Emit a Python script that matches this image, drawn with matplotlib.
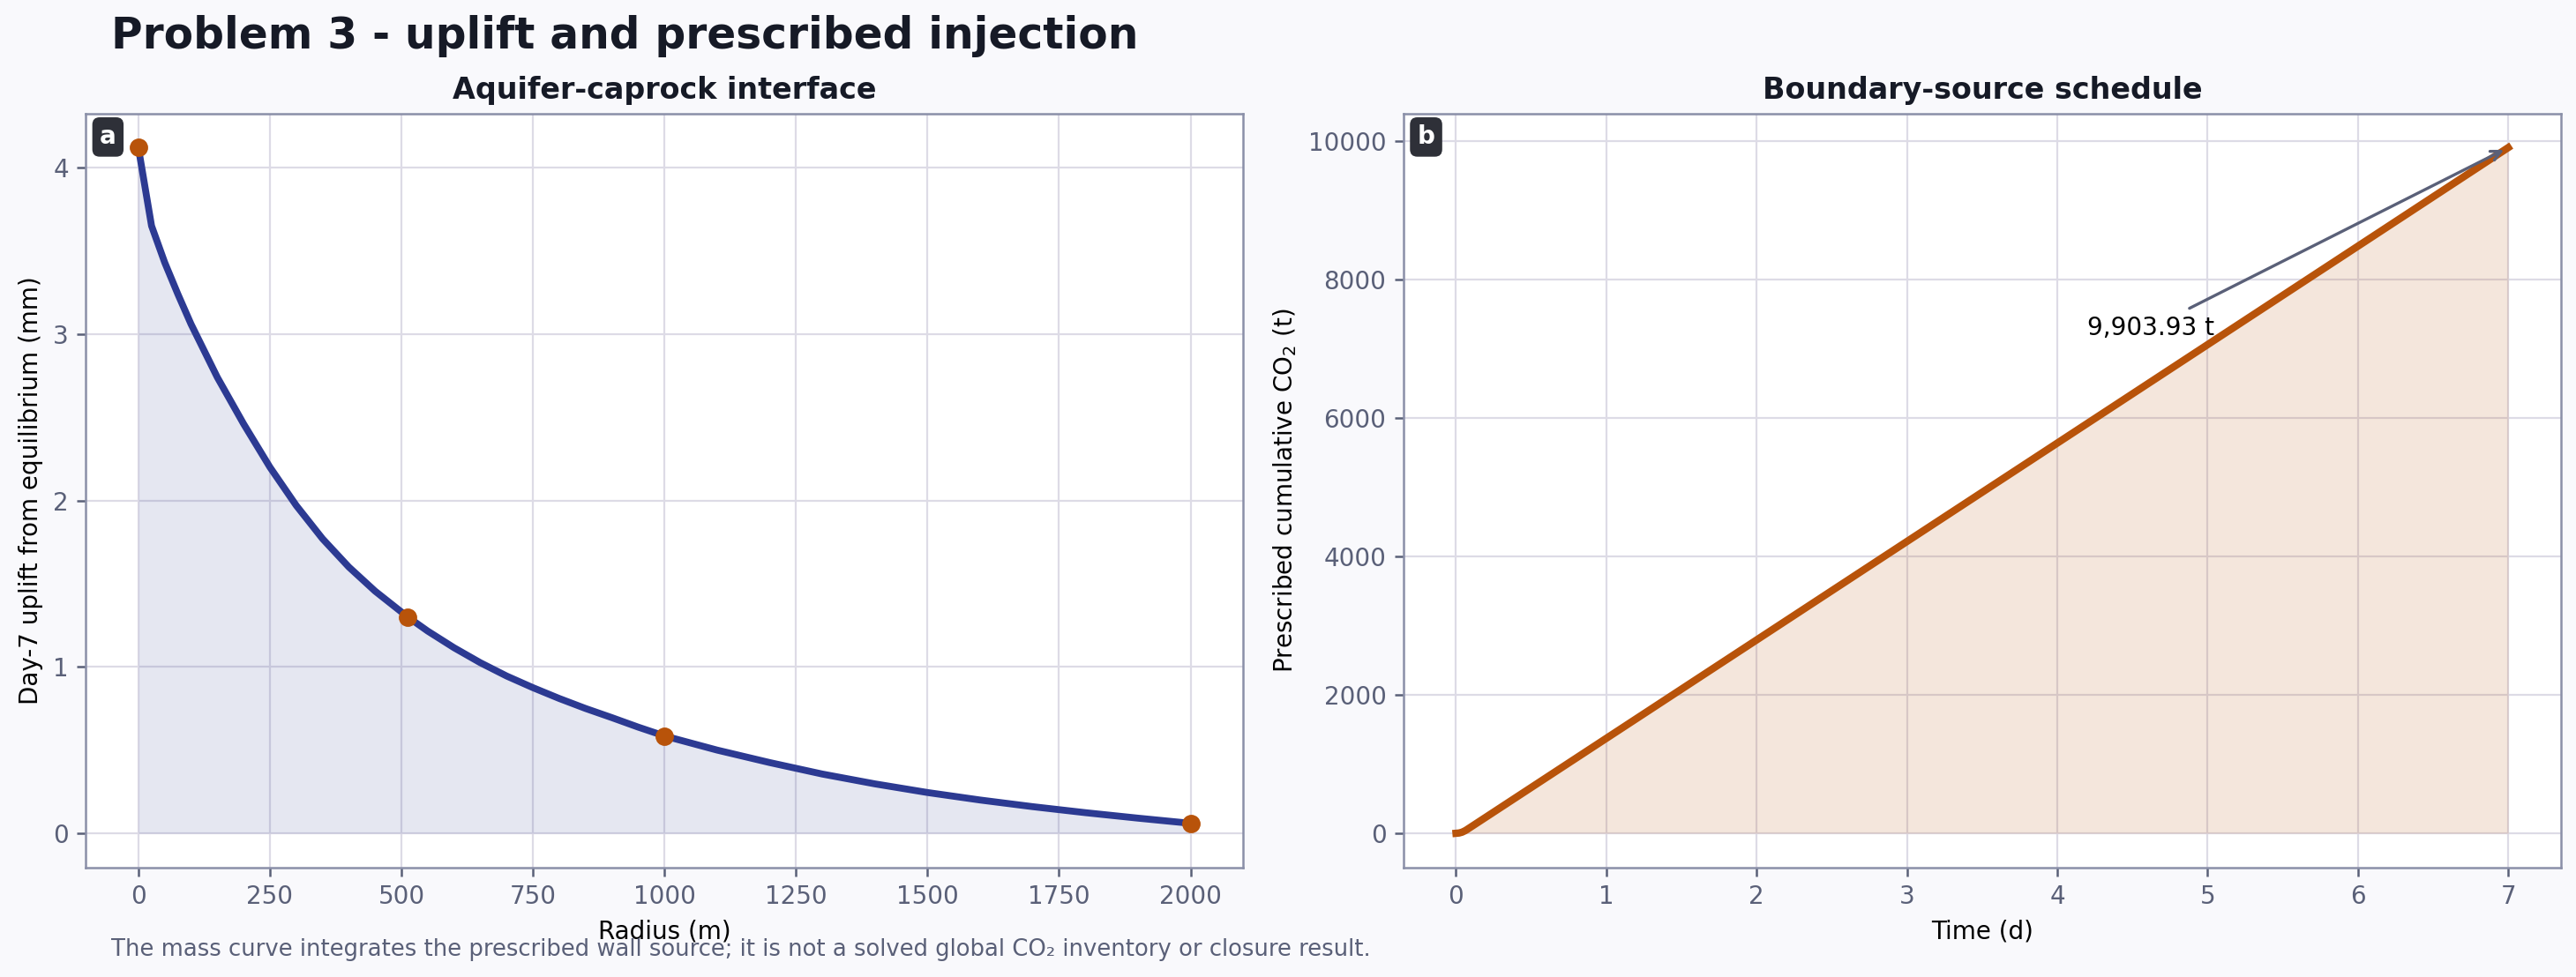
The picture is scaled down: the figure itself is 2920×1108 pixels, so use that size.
import matplotlib
matplotlib.use("Agg")
import matplotlib.pyplot as plt

# panel a: day-7 uplift along the aquifer-caprock interface
radius_m = [0, 25, 50, 75, 100, 150, 200, 250, 300, 350, 400, 450, 512, 550, 600, 650,
            700, 750, 800, 850, 900, 950, 1000, 1100, 1200, 1300, 1400, 1500, 1600, 1700,
            1800, 1900, 2000]
uplift_mm = [4.12, 3.65, 3.43, 3.24, 3.06, 2.74, 2.46, 2.20, 1.97, 1.77, 1.60, 1.455, 1.30,
             1.215, 1.115, 1.025, 0.945, 0.875, 0.81, 0.75, 0.695, 0.638, 0.585, 0.50, 0.425,
             0.356, 0.297, 0.245, 0.20, 0.16, 0.124, 0.091, 0.06]
probe_r = [0, 512, 1000, 2000]
probe_uplift = [4.12, 1.30, 0.585, 0.06]

# panel b: prescribed cumulative injected mass
time_d = [0, 0.02, 0.04, 0.06, 0.07, 1, 2, 3, 4, 5, 6, 7]
mass_t = [0, 4, 16, 37, 50, 1372, 2793, 4215, 5636, 7058, 8480, 9903.93]

BLUE = "#2c3a92"
ORANGE = "#b8530a"
MUTED = "#5a6078"
SPINE = "#8a8fa8"
GRID = "#dddbe6"

plt.rcParams["font.family"] = "DejaVu Sans"

fig, (ax1, ax2) = plt.subplots(1, 2, figsize=(14.6, 5.54), dpi=200, facecolor="#f9f9fc")
fig.subplots_adjust(left=0.0333, right=0.9941, bottom=0.112, top=0.884, wspace=0.1385)

for ax in (ax1, ax2):
    ax.set_facecolor("white")
    ax.set_axisbelow(True)
    ax.grid(True, color=GRID, linewidth=0.8)
    for s in ax.spines.values():
        s.set_color(SPINE)
        s.set_linewidth(0.9)
    ax.tick_params(colors=MUTED, labelsize=10, length=3.5, width=0.9)

# uplift profile
ax1.fill_between(radius_m, 0, uplift_mm, color=BLUE, alpha=0.12, linewidth=0)
ax1.plot(radius_m, uplift_mm, color=BLUE, lw=2.8)
ax1.plot(probe_r, probe_uplift, "o", color=ORANGE, ms=6.5, zorder=5)
ax1.set_title("Aquifer-caprock interface", fontsize=12, fontweight="bold", color="#161a26")
ax1.set_xlabel("Radius (m)", fontsize=10)
ax1.set_ylabel("Day-7 uplift from equilibrium (mm)", fontsize=10)

# injection schedule
ax2.fill_between(time_d, 0, mass_t, color=ORANGE, alpha=0.14, linewidth=0)
ax2.plot(time_d, mass_t, color=ORANGE, lw=3)
ax2.set_title("Boundary-source schedule", fontsize=12, fontweight="bold", color="#161a26")
ax2.set_xlabel("Time (d)", fontsize=10)
ax2.set_ylabel("Prescribed cumulative CO$_2$ (t)", fontsize=10)
ax2.annotate(f"{mass_t[-1]:,.2f} t", xy=(time_d[-1], mass_t[-1]), xytext=(4.2, 7200),
             fontsize=10, arrowprops=dict(arrowstyle="->", color=MUTED, lw=1.2))

# panel tags
for ax, tag in ((ax1, "a"), (ax2, "b")):
    ax.text(0.012, 0.985, tag, transform=ax.transAxes, ha="left", va="top",
            fontsize=10, fontweight="bold", color="white",
            bbox=dict(boxstyle="round,pad=0.3", facecolor="#2e3038", edgecolor="none"))

fig.text(0.043, 0.963, "Problem 3 - uplift and prescribed injection", fontsize=17.5,
         fontweight="bold", color="#161a26", ha="left", va="center")
fig.text(0.043, 0.028, "The mass curve integrates the prescribed wall source; it is not a "
         "solved global CO\u2082 inventory or closure result.", fontsize=9.3, color=MUTED,
         ha="left", va="center")

fig.savefig("out.png", dpi=200, facecolor=fig.get_facecolor())
